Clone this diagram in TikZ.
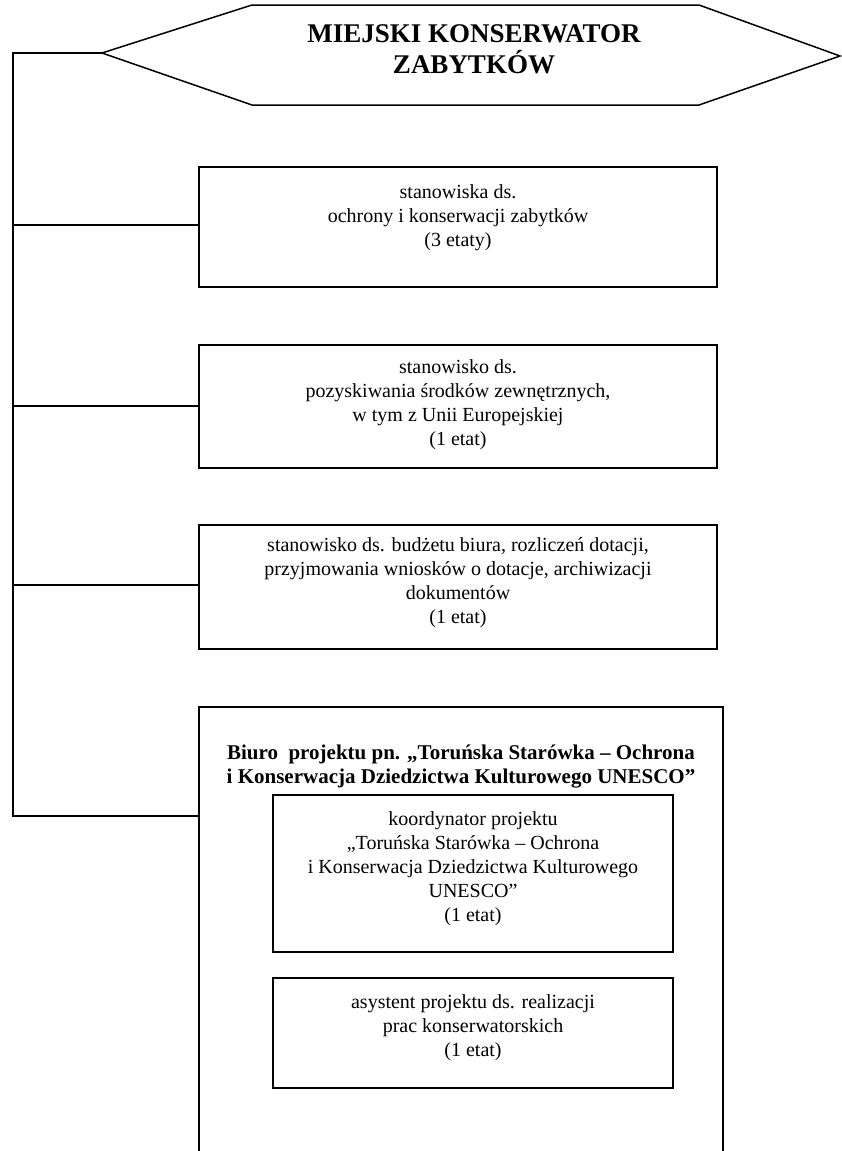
\documentclass[tikz,border=0pt]{standalone}
\usepackage{fontspec}
\setmainfont{Liberation Serif}[BoldFont={Liberation Serif Bold}]
\begin{document}
\begin{tikzpicture}[x=1pt,y=-1pt,line width=1.5pt,
  boxframe/.style={draw,line width=1.5pt,inner sep=0pt},
  boxtext/.style={align=center,inner sep=0pt,font=\fontsize{20}{24}\selectfont},
  plain/.style={align=center,inner sep=0pt},
  conn/.style={line width=1.5pt}]
\useasboundingbox (0,0) rectangle (842,1151);
% head hexagon
\coordinate (hL) at (102,53);
\coordinate (hTL) at (252,5);
\coordinate (hTR) at (699,5);
\coordinate (hR) at (840,56);
\coordinate (hBR) at (699,105);
\coordinate (hBL) at (252,105);
\draw (hL) -- (hTL) -- (hTR) -- (hR) -- (hBR) -- (hBL) -- cycle;
\node[plain,font=\fontsize{27}{31}\selectfont\bfseries] (head) at (474,49) {MIEJSKI KONSERWATOR\\ZABYTKÓW};
% boxes
\node[boxframe,minimum width=518pt,minimum height=120pt] (b1) at (458,227) {};
\node[boxtext] (b1t) at ([yshift=9pt]b1.center) {stanowiska ds.\\ochrony i konserwacji zabytków\\(3 etaty)};
\node[boxframe,minimum width=518pt,minimum height=123pt] (b2) at (458,406.5) {};
\node[boxtext] (b2t) at ([yshift=2pt]b2.center) {stanowisko ds.\\pozyskiwania środków zewnętrznych,\\w tym z Unii Europejskiej\\(1 etat)};
\node[boxframe,minimum width=518pt,minimum height=124pt] (b3) at (458,587) {};
\node[boxtext] (b3t) at ([yshift=4pt]b3.center) {stanowisko ds. budżetu biura, rozliczeń dotacji,\\przyjmowania wniosków o dotacje, archiwizacji\\dokumentów\\(1 etat)};
% office box (open at the bottom)
\coordinate (oSW) at (199,1151);
\coordinate (oNW) at (199,707);
\coordinate (oNE) at (723,707);
\coordinate (oSE) at (723,1151);
\draw (oSW) -- (oNW) -- (oNE) -- (oSE);
\node[plain,font=\fontsize{21}{24}\selectfont\bfseries] (biuro) at (461,767) {Biuro\ \ projektu pn. „Toruńska Starówka – Ochrona\\i Konserwacja Dziedzictwa Kulturowego UNESCO”};
\node[boxframe,minimum width=400pt,minimum height=157pt] (i1) at (473,873.5) {};
\node[boxtext] (i1t) at ([yshift=5pt]i1.center) {koordynator projektu\\„Toruńska Starówka – Ochrona\\i Konserwacja Dziedzictwa Kulturowego\\UNESCO”\\(1 etat)};
\node[boxframe,minimum width=400pt,minimum height=110pt] (i2) at (473,1033) {};
\node[boxtext] (i2t) at ([yshift=5pt]i2.center) {asystent projektu ds. realizacji\\prac konserwatorskich\\(1 etat)};
% trunk
\coordinate (t0) at (13,53);
\coordinate (c1) at (13,225);
\coordinate (c2) at (13,406);
\coordinate (c3) at (13,585);
\coordinate (c4) at (13,816);
\draw[conn] (hL) -- (t0) -- (c4) -- (c4 -| oNW);
\draw[conn] (c1) -- (c1 -| b1.west);
\draw[conn] (c2) -- (c2 -| b2.west);
\draw[conn] (c3) -- (c3 -| b3.west);
\end{tikzpicture}
\end{document}
